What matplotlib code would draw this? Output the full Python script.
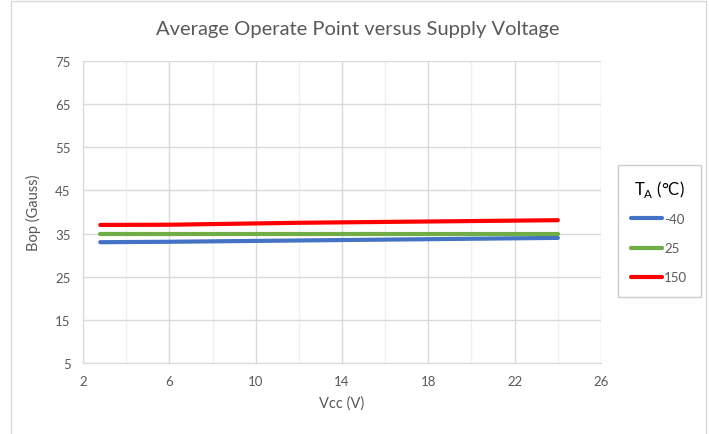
import matplotlib
matplotlib.use('Agg')
import matplotlib.pyplot as plt
from matplotlib.patches import Rectangle

plt.rcParams['font.family'] = ['Lato', 'DejaVu Sans']
plt.rcParams['mathtext.fontset'] = 'custom'
plt.rcParams['mathtext.rm'] = 'Lato'

# данные
vcc = [2.8, 6, 12, 18, 24]
bop_m40 = [33.0, 33.1, 33.4, 33.7, 34.0]
bop_25 = [35.0, 35.0, 35.0, 35.0, 35.0]
bop_150 = [37.0, 37.05, 37.5, 37.8, 38.1]
labels = ['-40', '25', '150']
colors = ['#4472C4', '#70AD47', '#FF0000']
x_ticks = [2, 6, 10, 14, 18, 22, 26]
x_minor = [4, 8, 12, 16, 20, 24]
y_ticks = [5, 15, 25, 35, 45, 55, 65, 75]

grey = '#595959'

fig = plt.figure(figsize=(7.09, 4.35), dpi=100)
fig.patches.append(Rectangle((11 / 709, -0.01), 695 / 709, 1 - 2 / 435 + 0.01,
                             transform=fig.transFigure, fill=False,
                             edgecolor='#D9D9D9', linewidth=1))

ax = fig.add_axes([83 / 709, 1 - 364 / 435, 518 / 709, 302 / 435])

for ys, lab, c in zip([bop_m40, bop_25, bop_150], labels, colors):
    ax.plot(vcc, ys, color=c, linewidth=3, label=lab, solid_capstyle='round')

ax.set_xlim(2, 26)
ax.set_ylim(5, 75)
ax.set_xticks(x_ticks)
ax.set_xticks(x_minor, minor=True)
ax.set_yticks(y_ticks)
ax.grid(which='major', color='#D9D9D9', linewidth=1)
ax.grid(which='minor', axis='x', color='#F0F0F0', linewidth=1)
ax.set_axisbelow(True)
for s in ['top', 'right']:
    ax.spines[s].set_visible(False)
for s in ['left', 'bottom']:
    ax.spines[s].set_color('#D9D9D9')
ax.tick_params(which='both', length=0, colors=grey, labelsize=9.5)
ax.tick_params(axis='x', pad=9)
ax.tick_params(axis='y', pad=9)

ax.set_xlabel('Vcc (V)', color=grey, fontsize=10.5, labelpad=6)
ax.set_ylabel('Bop (Gauss)', color=grey, fontsize=10.5, labelpad=10)
fig.text(358 / 709, 1 - 30 / 435, 'Average Operate Point versus Supply Voltage',
         ha='center', va='center', color=grey, fontsize=14.5)

leg = ax.legend(title=r'T$_{\mathrm{A}}$ (°C)', loc='upper left',
                bbox_to_anchor=(618 / 709, 1 - 166 / 435),
                bbox_transform=fig.transFigure, fancybox=False,
                edgecolor='#BFBFBF', fontsize=9.5, title_fontsize=12,
                handlelength=2.3, handletextpad=0.2, labelspacing=1.3,
                borderpad=1.0, borderaxespad=0)
leg.get_frame().set_linewidth(1)
leg._legend_box.sep = 10
leg.get_title().set_color('black')
for t in leg.get_texts():
    t.set_color(grey)

fig.savefig('out.png', dpi=100)
